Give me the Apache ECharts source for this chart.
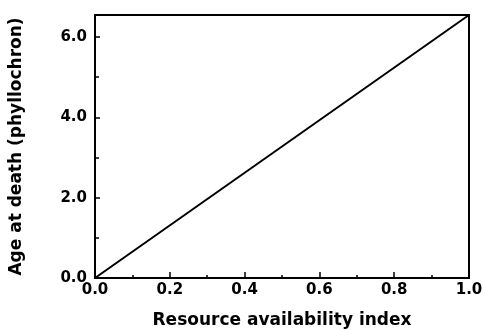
<!DOCTYPE html>
<html><head><meta charset="utf-8">
<script src="https://cdn.jsdelivr.net/npm/echarts@6/dist/echarts.min.js"></script>
<style>html,body{margin:0;padding:0;background:#fff}#c{width:486px;height:331px}</style>
</head><body><div id="c"></div>
<script>
const xValues = [0.0, 1.0];
const yValues = [0.0, 6.55];
const xTicks = ['0.0', '0.2', '0.4', '0.6', '0.8', '1.0'];
const yTicks = ['0.0', '2.0', '4.0', '6.0'];
const xName = 'Resource availability index';
const yName = 'Age at death (phyllochron)';

const chart = echarts.init(document.getElementById('c'));
const font = 'DejaVu Sans, Liberation Sans, sans-serif';
chart.setOption({
  animation: false,
  grid: {left: 95, right: 17, top: 15, bottom: 53, show: true, borderColor: '#000', borderWidth: 2,
    backgroundColor: 'transparent', containLabel: false, outerBoundsMode: 'none'},
  xAxis: {
    type: 'value', min: 0, max: 1, interval: 0.2,
    name: xName, nameLocation: 'middle', nameGap: 34,
    nameTextStyle: {fontFamily: font, fontWeight: 'bold', fontSize: 17, color: '#000'},
    axisLine: {show: true, lineStyle: {color: '#000', width: 2}},
    axisTick: {show: true, inside: true, length: 6, lineStyle: {color: '#000', width: 1.5}},
    minorTick: {show: true, splitNumber: 2, length: 3, lineStyle: {color: '#000', width: 1.5}},
    splitLine: {show: false},
    axisLabel: {fontFamily: font, fontWeight: 'bold', fontSize: 15, color: '#000', margin: 5,
      formatter: v => xTicks[Math.round(v / 0.2)] || ''}
  },
  yAxis: {
    type: 'value', min: 0, max: 6.55, interval: 2,
    name: yName, nameLocation: 'middle', nameGap: 70,
    nameTextStyle: {fontFamily: font, fontWeight: 'bold', fontSize: 17, color: '#000'},
    axisLine: {show: true, lineStyle: {color: '#000', width: 2}},
    axisTick: {show: true, inside: true, length: 5, lineStyle: {color: '#000', width: 1.5}},
    minorTick: {show: true, splitNumber: 2, length: 4, lineStyle: {color: '#000', width: 1.5}},
    splitLine: {show: false},
    axisLabel: {fontFamily: font, fontWeight: 'bold', fontSize: 15, color: '#000', margin: 8, showMaxLabel: false,
      formatter: v => yTicks[Math.round(v / 2)] || ''}
  },
  series: [{
    type: 'line', data: xValues.map((x, i) => [x, yValues[i]]),
    showSymbol: false, lineStyle: {color: '#000', width: 2}
  }]
});
</script></body></html>
